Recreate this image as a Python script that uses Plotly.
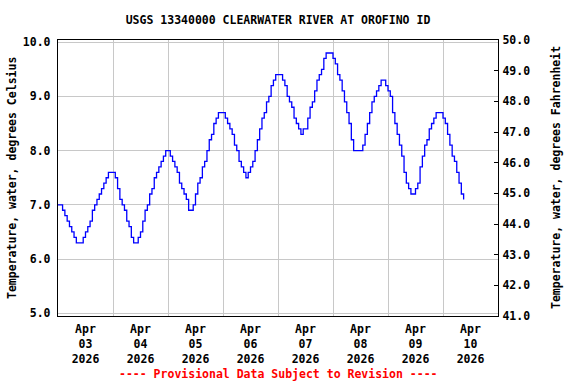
import pandas as pd
import plotly.graph_objects as go

# Hourly water temperature (deg C), starting 2026-04-03 00:00
apr03 = [7.0, 7.0, 6.9, 6.8, 6.7, 6.6, 6.5, 6.4, 6.3, 6.3, 6.3, 6.4,
         6.5, 6.6, 6.7, 6.9, 7.0, 7.1, 7.2, 7.3, 7.4, 7.5, 7.6, 7.6]
apr04 = [7.6, 7.5, 7.3, 7.1, 7.0, 6.9, 6.7, 6.6, 6.4, 6.3, 6.3, 6.4,
         6.5, 6.7, 6.9, 7.0, 7.2, 7.3, 7.5, 7.6, 7.7, 7.8, 7.9, 8.0]
apr05 = [8.0, 7.9, 7.8, 7.7, 7.6, 7.4, 7.3, 7.2, 7.1, 6.9, 6.9, 7.0,
         7.2, 7.4, 7.5, 7.7, 7.8, 8.0, 8.2, 8.3, 8.5, 8.6, 8.7, 8.7]
apr06 = [8.7, 8.6, 8.5, 8.4, 8.3, 8.1, 8.0, 7.8, 7.7, 7.6, 7.5, 7.6,
         7.7, 7.8, 8.0, 8.2, 8.4, 8.6, 8.7, 8.9, 9.0, 9.2, 9.3, 9.4]
apr07 = [9.4, 9.4, 9.3, 9.2, 9.0, 8.9, 8.8, 8.6, 8.5, 8.4, 8.3, 8.4,
         8.4, 8.6, 8.8, 8.9, 9.1, 9.3, 9.4, 9.5, 9.7, 9.8, 9.8, 9.8]
apr08 = [9.7, 9.6, 9.4, 9.3, 9.1, 8.9, 8.7, 8.5, 8.2, 8.0, 8.0, 8.0,
         8.0, 8.1, 8.3, 8.5, 8.7, 8.9, 9.0, 9.1, 9.2, 9.3, 9.3, 9.2]
apr09 = [9.1, 9.0, 8.7, 8.5, 8.3, 8.1, 7.9, 7.6, 7.4, 7.3, 7.2, 7.2,
         7.3, 7.4, 7.7, 7.9, 8.1, 8.2, 8.4, 8.5, 8.6, 8.7, 8.7, 8.7]
apr10 = [8.6, 8.5, 8.3, 8.1, 7.9, 7.8, 7.6, 7.4, 7.2, 7.1]

temps_c = apr03 + apr04 + apr05 + apr06 + apr07 + apr08 + apr09 + apr10
times = pd.date_range("2026-04-03 00:00", periods=len(temps_c), freq="h")
temps_f = [c * 1.8 + 32 for c in temps_c]

c_range = [4.95, 10.04]
f_range = [41.0, 50.0]

FONT = "DejaVu Sans Mono"
FS = 11.5

fig = go.Figure()
fig.add_trace(go.Scatter(x=times, y=temps_c, mode="lines", line_shape="hv",
                         line=dict(color="#0000ff", width=1.3),
                         showlegend=False, hoverinfo="skip"))
fig.add_trace(go.Scatter(x=times, y=temps_f, mode="lines", yaxis="y2",
                         line=dict(color="rgba(0,0,0,0)", width=0),
                         showlegend=False, hoverinfo="skip"))

fig.update_layout(
    width=576, height=384,
    margin=dict(l=58, r=78, t=40, b=68),
    paper_bgcolor="white", plot_bgcolor="white",
    font=dict(family=FONT, size=FS, color="black", weight="bold"),
    title=dict(text="USGS 13340000 CLEARWATER RIVER AT OROFINO ID",
               x=278 / 576, xanchor="center", y=1 - 20 / 384, yanchor="middle",
               font=dict(family=FONT, size=FS, color="black", weight="bold")),
    xaxis=dict(type="date", range=["2026-04-03", "2026-04-11"],
               dtick=86400000, tick0="2026-04-03", ticklabelmode="period",
               tickformat="%b<br>%d<br>%Y", ticks="",
               showgrid=True, gridcolor="#c8c8c8", gridwidth=1,
               showline=True, linecolor="black", linewidth=1.3, mirror=True,
               zeroline=False, ticklabelstandoff=2,
               tickfont=dict(family=FONT, size=FS, weight="bold")),
    yaxis=dict(range=c_range, dtick=1, tick0=0, tickformat=".1f",
               ticks="", showgrid=True, gridcolor="#c8c8c8", gridwidth=1,
               showline=True, linecolor="black", linewidth=1.3, mirror=True,
               zeroline=False, ticklabelstandoff=4,
               tickfont=dict(family=FONT, size=FS, weight="bold")),
    yaxis2=dict(range=f_range, dtick=1, tick0=0, tickformat=".1f",
                overlaying="y", side="right", ticks="inside", ticklen=4,
                tickcolor="black", showgrid=False, zeroline=False,
                showline=True, linecolor="black", linewidth=1.3,
                ticklabelstandoff=1,
                tickfont=dict(family=FONT, size=FS, weight="bold")),
    annotations=[
        dict(text="Temperature, water, degrees Celsius", textangle=-90,
             xref="paper", yref="paper", x=(12 - 58) / 440, y=0.5,
             xanchor="center", yanchor="middle", showarrow=False,
             font=dict(family=FONT, size=FS, weight="bold")),
        dict(text="Temperature, water, degrees Fahrenheit", textangle=-90,
             xref="paper", yref="paper", x=(556 - 58) / 440, y=0.5,
             xanchor="center", yanchor="middle", showarrow=False,
             font=dict(family=FONT, size=FS, weight="bold")),
        dict(text="---- Provisional Data Subject to Revision ----",
             xref="paper", yref="paper", x=(278 - 58) / 440,
             y=-(374 - 316) / 276, xanchor="center", yanchor="middle",
             showarrow=False,
             font=dict(family=FONT, size=FS, color="red", weight="bold")),
    ],
)

fig.write_html("out.html",
               config={"displayModeBar": False},
               post_script="document.body.style.margin='0px';")
